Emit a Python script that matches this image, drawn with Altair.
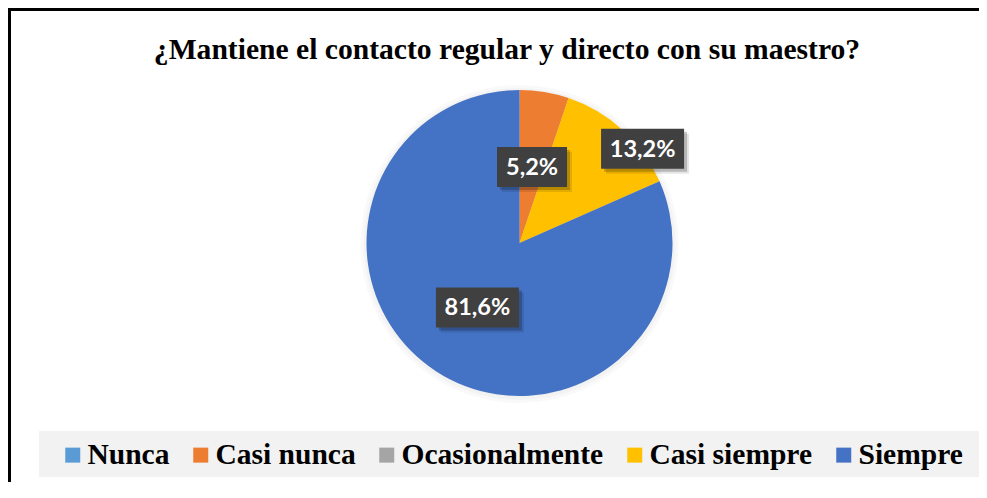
import math
import altair as alt
import pandas as pd

titulo = "¿Mantiene el contacto regular y directo con su maestro?"
categorias = ["Nunca", "Casi nunca", "Ocasionalmente", "Casi siempre", "Siempre"]
porcentajes = [0.0, 5.2, 0.0, 13.2, 81.6]
colores = ["#5B9BD5", "#ED7D31", "#A5A5A5", "#FFC000", "#4472C4"]

df = pd.DataFrame({
    "cat": categorias,
    "valor": porcentajes,
    "orden": list(range(len(categorias))),
})

W, H = 971, 474
CX, CY = 511.5, 235
R = 153
LABEL_FONT = "Lato"
SERIF = "Liberation Serif"

one = pd.DataFrame({"t": [titulo]})

base = (
    alt.Chart(df)
    .transform_stack(stack="valor", groupby=[], as_=["s0", "s1"],
                     sort=[alt.SortField("orden", order="ascending")])
    .transform_calculate(mid="(datum.s0 + datum.s1) / 2",
                         etiqueta="replace(format(datum.valor, '.1f'), '.', ',') + '%'")
)
theta_scale = alt.Scale(domain=[0, 100], range=[0, 2 * math.pi])

frame_top = alt.Chart(one).mark_rect(color="black").encode(
    x=alt.value(0), x2=alt.value(W), y=alt.value(0), y2=alt.value(3))
frame_left = alt.Chart(one).mark_rect(color="black").encode(
    x=alt.value(0), x2=alt.value(3), y=alt.value(0), y2=alt.value(H))
edge_cover = alt.Chart(one).mark_rect(color="white").encode(
    x=alt.value(W - 6), x2=alt.value(W), y=alt.value(3), y2=alt.value(423))

title = alt.Chart(one).mark_text(font=SERIF, fontWeight="bold", fontSize=29.6,
                                 color="black", align="center", baseline="alphabetic").encode(
    x=alt.value(499), y=alt.value(51), text="t:N")

# soft shadow around pie
shadow_layers = []
for i in range(8):
    r = R + 2 + 3.5 * i
    shadow_layers.append(
        alt.Chart(one).mark_circle(color="black", opacity=0.025, size=math.pi * r * r).encode(
            x=alt.value(CX), y=alt.value(CY + 1)))

pie = base.mark_arc(radius=R).encode(
    theta=alt.Theta("s0:Q", scale=theta_scale),
    theta2="s1:Q",
    x=alt.value(CX), y=alt.value(CY),
    color=alt.Color("cat:N", scale=alt.Scale(domain=categorias, range=colores),
                    legend=alt.Legend(title=None, orient="none", legendX=50, legendY=432,
                                      direction="horizontal", symbolType="square",
                                      symbolSize=225, symbolStrokeWidth=0,
                                      labelFont=SERIF, labelFontWeight="bold",
                                      labelFontSize=29.5, labelColor="black",
                                      labelOffset=0, columnPadding=16, labelLimit=500,
                                      padding=0)),
)

legend_bg = alt.Chart(one).mark_rect(fill="#F2F2F2").encode(
    x=alt.value(31), x2=alt.value(971), y=alt.value(423), y2=alt.value(469))


def placed(data, radius, theta_off):
    a = f"(datum.mid / 100 * 2 * PI + {theta_off})"
    return data.transform_calculate(
        px=f"{CX} + {radius} * sin({a})",
        py=f"{CY} - {radius} * cos({a})",
        hw="length(datum.etiqueta) < 5 ? 35 : 41.5",
    )


def box(data, color, off, opacity):
    return data.transform_calculate(
        bx0=f"datum.px - datum.hw + {off}", bx1=f"datum.px + datum.hw + {off}",
        by0=f"datum.py - 20 + {off}", by1=f"datum.py + 20 + {off}",
    ).mark_rect(color=color, opacity=opacity).encode(
        x=alt.X("bx0:Q", scale=None), x2="bx1:Q",
        y=alt.Y("by0:Q", scale=None), y2="by1:Q",
    )


def label(data):
    return data.mark_text(font=LABEL_FONT, fontWeight="bold", fontSize=23.5, color="white",
                          align="center", baseline="middle", dy=1).encode(
        x=alt.X("px:Q", scale=None), y=alt.Y("py:Q", scale=None), text="etiqueta:N")


inner = placed(base.transform_filter("datum.valor > 0 && datum.cat != 'Casi siempre'"), 77, 0.0)
outer = placed(base.transform_filter("datum.cat == 'Casi siempre'"), 155, 0.176)

label_layers = []
for data in [inner, outer]:
    label_layers.append(box(data, "#000000", 5, 0.10))
    label_layers.append(box(data, "#000000", 3, 0.20))
    label_layers.append(box(data, "#404040", 0, 1))
    label_layers.append(label(data))

chart = alt.layer(
    frame_top, frame_left, title, *shadow_layers, pie, legend_bg, *label_layers, edge_cover
).properties(
    width=W, height=H, autosize=alt.AutoSizeParams(type="none"), padding=0,
    background="white"
).configure_view(stroke="transparent", strokeWidth=0)

chart.save("out.html", embed_options={"renderer": "svg", "actions": False})
